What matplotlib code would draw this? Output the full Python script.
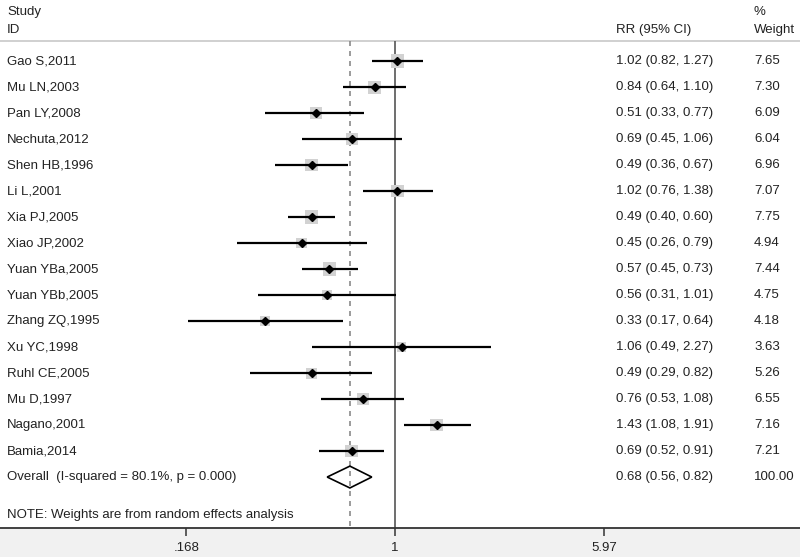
import numpy as np
import matplotlib.pyplot as plt
from matplotlib.patches import Polygon

plt.rcParams['font.family'] = ['Liberation Sans', 'DejaVu Sans']

# data
studies = ["Gao S,2011", "Mu LN,2003", "Pan LY,2008", "Nechuta,2012", "Shen HB,1996",
           "Li L,2001", "Xia PJ,2005", "Xiao JP,2002", "Yuan YBa,2005", "Yuan YBb,2005",
           "Zhang ZQ,1995", "Xu YC,1998", "Ruhl CE,2005", "Mu D,1997", "Nagano,2001",
           "Bamia,2014"]
rr = [1.02, 0.84, 0.51, 0.69, 0.49, 1.02, 0.49, 0.45, 0.57, 0.56, 0.33, 1.06, 0.49, 0.76, 1.43, 0.69]
lo = [0.82, 0.64, 0.33, 0.45, 0.36, 0.76, 0.40, 0.26, 0.45, 0.31, 0.17, 0.49, 0.29, 0.53, 1.08, 0.52]
hi = [1.27, 1.10, 0.77, 1.06, 0.67, 1.38, 0.60, 0.79, 0.73, 1.01, 0.64, 2.27, 0.82, 1.08, 1.91, 0.91]
weight = [7.65, 7.30, 6.09, 6.04, 6.96, 7.07, 7.75, 4.94, 7.44, 4.75, 4.18, 3.63, 5.26, 6.55, 7.16, 7.21]

overall_rr, overall_lo, overall_hi = 0.68, 0.56, 0.82
overall_label = "Overall  (I-squared = 80.1%, p = 0.000)"
note = "NOTE: Weights are from random effects analysis"
xticks = [0.168, 1, 5.97]
xticklabels = [".168", "1", "5.97"]

fig = plt.figure(figsize=(8, 5.57), dpi=100, facecolor='#f1f1f1')
ax = fig.add_axes([0, 29 / 557, 1, 528 / 557])
ax.set_facecolor('white')
ax.set_xscale('log')
ax.set_xlim(0.03418, 31.86)

n = len(studies)
ypos = np.arange(n)
y_overall = n
y_note = n + 1.46
y_head = -0.77
ax.set_ylim(17.96, -2.346)

# header rule and reference lines
ax.axhline(y_head, color='#c8c8c8', lw=1.2)
ax.vlines(1, y_head, 17.96, color='#555555', lw=1.2)
ax.vlines(overall_rr, y_head, 17.96, color='#8a8a8a', lw=1.2, linestyles=(0, (3, 3)))

# study estimates
ax.scatter(rr, ypos, s=np.array(weight) * 12, marker='s', color='#d2d2d2', zorder=2, linewidths=0)
ax.hlines(ypos, lo, hi, color='black', lw=1.6, zorder=3)
ax.plot(rr, ypos, 'D', color='black', markersize=4.5, zorder=4)

# overall diamond
h = 0.42
diamond = Polygon([[overall_lo, y_overall], [overall_rr, y_overall - h],
                   [overall_hi, y_overall], [overall_rr, y_overall + h]],
                  closed=True, fill=False, edgecolor='black', lw=1.2, zorder=4)
ax.add_patch(diamond)

# text columns
tr = ax.get_yaxis_transform()
fs = 9.5
tc = '#222222'
ax.text(0.00875, -1.9, "Study", transform=tr, fontsize=fs, va='center', color=tc)
ax.text(0.00875, -1.18, "ID", transform=tr, fontsize=fs, va='center', color=tc)
ax.text(0.77, -1.18, "RR (95% CI)", transform=tr, fontsize=fs, va='center', color=tc)
ax.text(0.9425, -1.9, "%", transform=tr, fontsize=fs, va='center', color=tc)
ax.text(0.9425, -1.18, "Weight", transform=tr, fontsize=fs, va='center', color=tc)

for i in range(n):
    ax.text(0.00875, ypos[i], studies[i], transform=tr, fontsize=fs, va='center', color=tc)
    ax.text(0.77, ypos[i], f"{rr[i]:.2f} ({lo[i]:.2f}, {hi[i]:.2f})", transform=tr,
            fontsize=fs, va='center', color=tc)
    ax.text(0.9425, ypos[i], f"{weight[i]:.2f}", transform=tr, fontsize=fs, va='center', color=tc)

ax.text(0.00875, y_overall, overall_label, transform=tr, fontsize=fs, va='center', color=tc)
ax.text(0.77, y_overall, f"{overall_rr:.2f} ({overall_lo:.2f}, {overall_hi:.2f})", transform=tr,
        fontsize=fs, va='center', color=tc)
ax.text(0.9425, y_overall, "100.00", transform=tr, fontsize=fs, va='center', color=tc)
ax.text(0.00875, y_note, note, transform=tr, fontsize=fs, va='center', color=tc)

# axis styling
for s in ['top', 'left', 'right']:
    ax.spines[s].set_visible(False)
ax.spines['bottom'].set_color('#333333')
ax.spines['bottom'].set_linewidth(1.3)
ax.set_yticks([])
ax.set_xticks(xticks)
ax.set_xticklabels(xticklabels)
ax.minorticks_off()
ax.tick_params(axis='x', direction='out', length=6, width=1.1, color='#333333',
               labelsize=fs, labelcolor=tc, pad=4)

fig.savefig('out.png', dpi=100, facecolor=fig.get_facecolor())
